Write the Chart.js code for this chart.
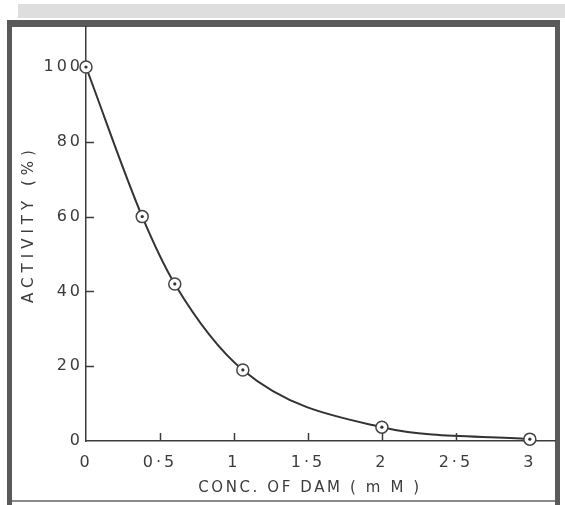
<!DOCTYPE html>
<html>
<head>
<meta charset="utf-8">
<title>Activity vs DAM</title>
<script src="https://cdn.jsdelivr.net/npm/chart.js@4.4.1/dist/chart.umd.min.js"></script>
<style>
  body{ margin:0; background:#fff; }
  canvas{ display:block; }
</style>
</head>
<body>
<canvas id="myChart" width="565" height="505"></canvas>
<script>
// data
const concentration = [0, 0.38, 0.6, 1.06, 2.0, 3.0];   // mM
const activity      = [100, 60, 42, 19, 3.7, 0.5];      // %
const xTickValues = [0, 0.5, 1, 1.5, 2, 2.5, 3];
const yTickValues = [0, 20, 40, 60, 80, 100];
const yTitle = 'ACTIVITY (%)';
const xTitle = 'CONC. OF DAM ( m M )';

const points = concentration.map((c, i) => ({x: c, y: activity[i]}));
const ink = '#3c3c3c';

// frame, inner tick marks and letter-spaced titles
const frame = {
  id: 'frame',
  beforeDraw(chart){
    const c = chart.ctx;
    c.save();
    c.fillStyle = '#fff';
    c.fillRect(0, 0, 565, 505);
    c.fillStyle = '#dedede';
    c.fillRect(18, 4, 547, 14);
    c.fillStyle = '#5a5a5a';
    c.fillRect(7, 20, 553, 7);     // top
    c.fillRect(7, 20, 5, 485);     // left
    c.fillRect(555, 20, 5, 485);   // right
    c.fillStyle = '#8a8a8a';
    c.fillRect(12, 500, 543, 2);   // bottom
    c.restore();
    c.letterSpacing = '3px';
  },
  afterDatasetsDraw(chart){
    const c = chart.ctx, xs = chart.scales.x, ys = chart.scales.y;
    c.save();
    c.strokeStyle = ink;
    c.lineWidth = 1.5;
    c.beginPath();
    yTickValues.slice(1, -1).forEach(v => {
      const y = Math.round(ys.getPixelForValue(v)) + 0.5;
      c.moveTo(xs.left, y); c.lineTo(xs.left + 8, y);
    });
    xTickValues.slice(1, -1).forEach(v => {
      const x = Math.round(xs.getPixelForValue(v)) + 0.5;
      c.moveTo(x, ys.bottom); c.lineTo(x, ys.bottom - 8);
    });
    c.stroke();
    c.restore();
  },
  afterDraw(chart){
    const c = chart.ctx;
    c.save();
    c.fillStyle = ink;
    c.textAlign = 'center';
    c.textBaseline = 'middle';
    c.font = '15px "DejaVu Sans"';
    c.letterSpacing = '5px';
    c.translate(29, 224);
    c.rotate(-Math.PI / 2);
    c.fillText(yTitle, 0, 0);
    c.restore();
    c.save();
    c.fillStyle = ink;
    c.textAlign = 'center';
    c.textBaseline = 'middle';
    c.font = '15px "DejaVu Sans"';
    c.letterSpacing = '2.6px';
    c.fillText(xTitle, 310, 488);
    c.restore();
  }
};

const dotLabel = v => String(v).replace('.', '\u00b7');

new Chart(document.getElementById('myChart'), {
  type: 'scatter',
  data: {
    datasets: [
      {
        data: points,
        order: 1,
        showLine: true,
        cubicInterpolationMode: 'monotone',
        borderColor: '#333',
        borderWidth: 2,
        pointRadius: 6,
        pointBackgroundColor: '#fff',
        pointBorderColor: '#444',
        pointBorderWidth: 1.5,
        clip: false
      },
      {
        data: points,
        order: 0,
        showLine: false,
        pointRadius: 1.6,
        pointBackgroundColor: '#333',
        pointBorderWidth: 0,
        clip: false
      }
    ]
  },
  plugins: [frame],
  options: {
    responsive: false,
    animation: false,
    events: [],
    layout: { padding: { top: 27, right: 10, left: 0, bottom: 0 } },
    plugins: { legend: { display: false }, tooltip: { enabled: false } },
    scales: {
      x: {
        type: 'linear',
        min: 0,
        max: 3.17,
        afterBuildTicks: s => { s.ticks = xTickValues.map(v => ({value: v})); },
        afterFit: s => { s.height = 64; s.paddingLeft = 0; s.paddingRight = 0; },
        border: { color: ink, width: 1.5 },
        grid: { display: false, drawTicks: false },
        ticks: {
          padding: 12,
          color: ink,
          font: { family: 'DejaVu Sans', size: 16 },
          maxRotation: 0,
          autoSkip: false,
          callback: v => dotLabel(v)
        }
      },
      y: {
        min: 0,
        max: 110.7,
        afterBuildTicks: s => { s.ticks = yTickValues.map(v => ({value: v})); },
        afterFit: s => { s.width = 86; s.paddingTop = 0; s.paddingBottom = 0; },
        border: { color: ink, width: 1.5 },
        grid: { display: false, drawTicks: false },
        ticks: {
          padding: 3,
          color: ink,
          font: { family: 'DejaVu Sans', size: 16 }
        }
      }
    }
  }
});
</script>
</body>
</html>
